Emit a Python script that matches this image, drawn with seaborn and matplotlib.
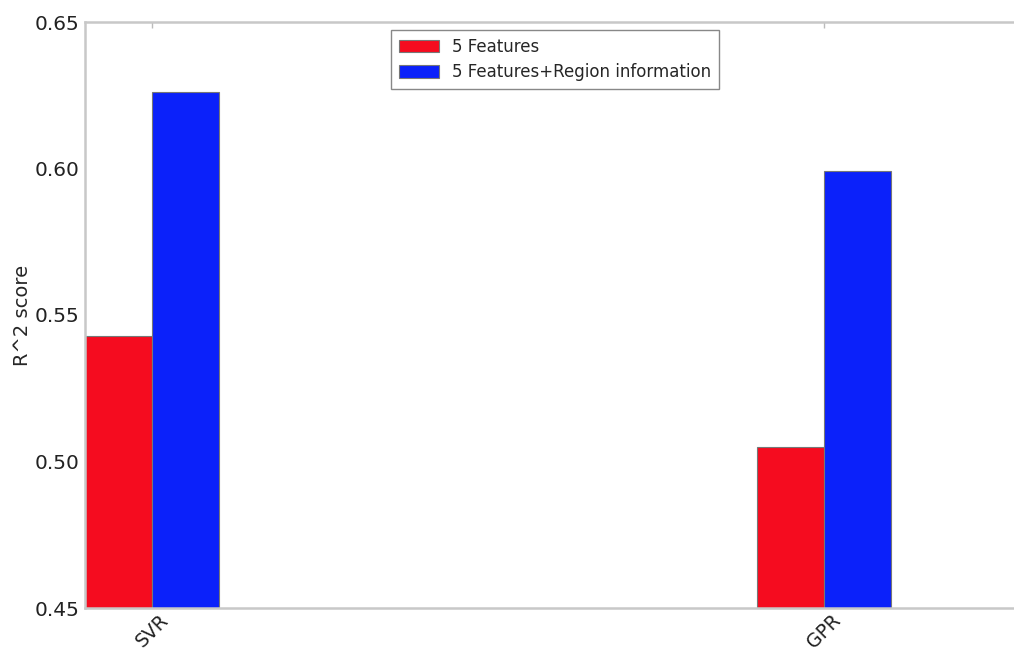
import matplotlib
matplotlib.use("Agg")
import matplotlib.pyplot as plt
import seaborn as sns
import pandas as pd

models = ["SVR", "GPR"]
feature_sets = ["5 Features", "5 Features+Region information"]
score_5_features = [0.543, 0.505]
score_with_region = [0.626, 0.599]

df = pd.DataFrame({
    "model": models * 2,
    "features": [feature_sets[0]] * 2 + [feature_sets[1]] * 2,
    "score": score_5_features + score_with_region,
})

sns.set_style("white")
plt.rcParams["font.family"] = ["DejaVu Sans"]

fig = plt.figure(figsize=(10.14, 6.5), dpi=100)
ax = fig.add_axes([85 / 1014, 1 - 608 / 650, 1 - 85 / 1014, (608 - 22) / 650])

sns.barplot(
    data=df, x="model", y="score", hue="features", order=models,
    hue_order=feature_sets, palette=["#f50c1f", "#0b21fa"], width=0.2,
    edgecolor="#777777", linewidth=0.8, saturation=1, ax=ax,
)

ax.set_xlim(-0.1, 1.283)
ax.set_ylim(0.45, 0.65)
ax.set_yticks([0.45, 0.50, 0.55, 0.60, 0.65])
ax.set_yticklabels(["0.45", "0.50", "0.55", "0.60", "0.65"])
ax.set_xlabel("")
ax.set_ylabel("R^2 score", fontsize=14, labelpad=2)

for lbl in ax.get_xticklabels():
    lbl.set_rotation(45)
    lbl.set_ha("center")
    lbl.set_fontsize(13.5)

ax.tick_params(axis="y", labelsize=14.5)
ax.tick_params(axis="both", colors="#bbbbbb", labelcolor="#222222",
               direction="in", length=4, width=1)
ax.tick_params(axis="x", top=True, bottom=True, pad=2)
ax.tick_params(axis="y", pad=4)

for side in ["left", "top", "bottom"]:
    ax.spines[side].set_color("#c8c8c8")
    ax.spines[side].set_linewidth(1.8)
ax.spines["right"].set_visible(False)

leg = ax.legend(loc="upper center", bbox_to_anchor=(0.506, 1.0), fontsize=12,
                frameon=True, fancybox=False, framealpha=1, handlelength=2.4,
                handleheight=0.8, borderpad=0.45, labelspacing=0.45)
leg.get_frame().set_edgecolor("#888888")
leg.get_frame().set_linewidth(1.0)

fig.savefig("out.png", dpi=100)
